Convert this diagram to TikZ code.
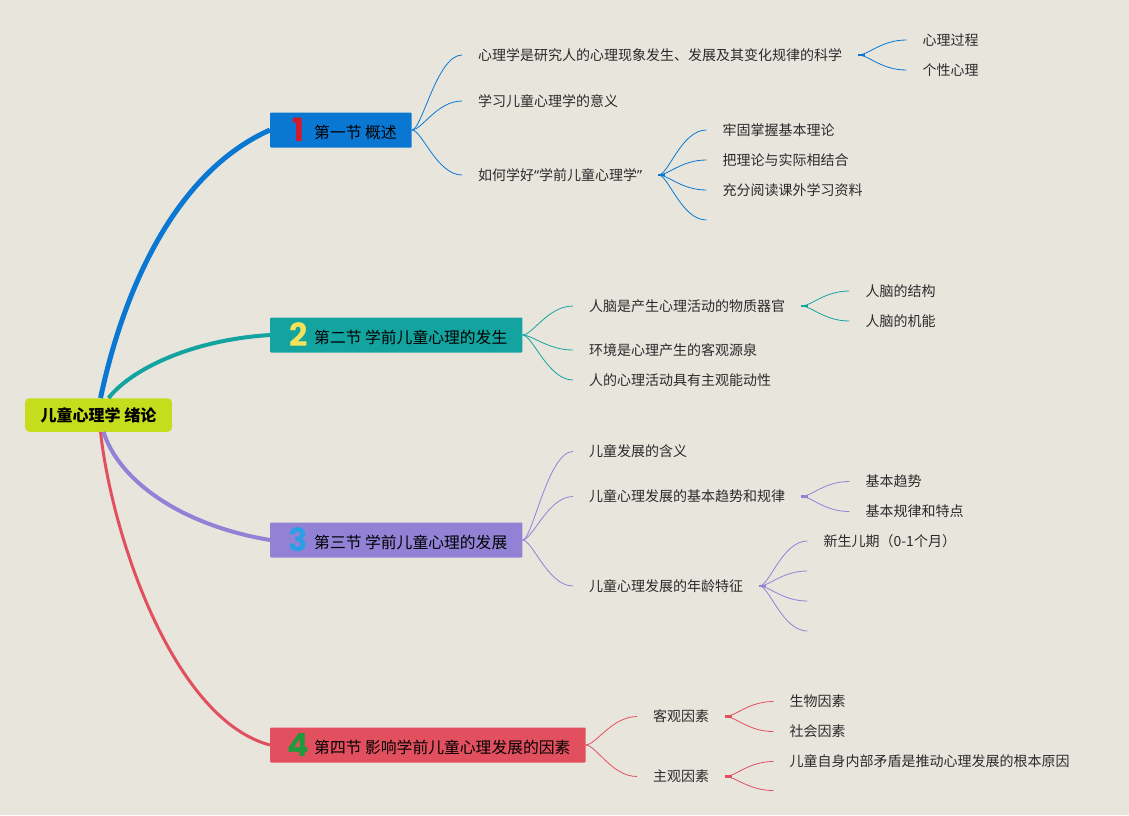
\documentclass[tikz,border=0pt]{standalone}
\usepackage{fontspec}
\setmainfont{Noto Sans CJK SC}
\newfontfamily\numfont{Poppins}
\newfontfamily\quotefont{Noto Sans}
\usetikzlibrary{positioning}

\definecolor{paper}{HTML}{E8E5DD}
\definecolor{rootc}{HTML}{C6DD1E}
\definecolor{secA}{HTML}{0A78D2}
\definecolor{secB}{HTML}{14A4A0}
\definecolor{secC}{HTML}{9282D6}
\definecolor{secD}{HTML}{E2505F}
\definecolor{numA}{HTML}{D3192E}
\definecolor{numB}{HTML}{F3E25A}
\definecolor{numC}{HTML}{2A9EE6}
\definecolor{numD}{HTML}{1E9A3A}
\definecolor{ink}{HTML}{2B2B2B}

\newcommand\secnum[2]{\hspace{5pt}\makebox[16pt]{\raisebox{-3pt}{\numfont\bfseries\fontsize{32}{32}\selectfont\color{#1}#2}}\hspace{8pt}}

\tikzset{
  rootbox/.style={fill=rootc, rounded corners=4pt, minimum height=33.5pt,
    inner xsep=15.5pt, inner ysep=0pt, anchor=west,
    font=\fontsize{16}{18}\selectfont\bfseries},
  sect/.style={fill=#1, minimum height=35pt, inner xsep=15pt, inner ysep=0pt,
    anchor=west, rounded corners=1pt, font=\fontsize{15.8}{18}\selectfont},
  leaf/.style={anchor=west, inner xsep=16pt, inner ysep=2pt, text=ink,
    font=\fontsize{14}{16}\selectfont},
  twig/.style={line width=0.8pt},
}

\begin{document}
\begin{tikzpicture}[x=1pt,y=-1pt]
\def\twig#1(#2)(#3);{\draw[twig,#1] (#2.east) .. controls +(10,0) and +(-25,0) .. (#3);}
\def\stub#1(#2);{\draw[#1,line width=2.5pt] (#2.east) -- ++(7,0);}

\fill[paper] (0,0) rectangle (1129,815);
\useasboundingbox (0,0) rectangle (1129,815);

% root and sections
\node[rootbox] (root) at (25,415) {儿童心理学 绪论};
\node[sect=secA] (s1) at (270,130) {\secnum{numA}{1}第一节 概述};
\node[sect=secB] (s2) at (270,335) {\secnum{numB}{2}第二节 学前儿童心理的发生};
\node[sect=secC] (s3) at (270,540) {\secnum{numC}{3}第三节 学前儿童心理的发展};
\node[sect=secD] (s4) at (270,745) {\secnum{numD}{4}第四节 影响学前儿童心理发展的因素};

\draw[secA,line width=5pt] ([xshift=2pt]root.north) .. controls +(25,-118) and +(-90,40) .. (s1.west);
\draw[secB,line width=4pt] ([xshift=10pt]root.north) .. controls +(22,-28) and +(-80,5) .. (s2.west);
\draw[secC,line width=4pt] ([xshift=5pt]root.south) .. controls +(15,48) and +(-90,-15) .. (s3.west);
\draw[secD,line width=3pt] ([xshift=2pt]root.south) .. controls +(12,108) and +(-95,-25) .. (s4.west);

% section 1
\node[leaf] (a1) at (462,55) {心理学是研究人的心理现象发生、发展及其变化规律的科学};
\node[leaf] (a2) at (462,101) {学习儿童心理学的意义};
\node[leaf] (a3) at (462,175) {如何学好{\quotefont“}学前儿童心理学{\quotefont”}};
\node[leaf,right=48pt of a1,yshift=15pt] (a11) {心理过程};
\node[leaf,right=48pt of a1,yshift=-15pt] (a12) {个性心理};
\node[leaf,right=48pt of a3,yshift=45pt] (a31) {牢固掌握基本理论};
\node[leaf,right=48pt of a3,yshift=15pt] (a32) {把理论与实际相结合};
\node[leaf,right=48pt of a3,yshift=-15pt] (a33) {充分阅读课外学习资料};
\coordinate[right=48pt of a3,yshift=-45pt] (a34);

\twig secA(s1)(a1.west);
\twig secA(s1)(a2.west);
\twig secA(s1)(a3.west);
\stub secA(a1);
\twig secA(a1)(a11.west);
\twig secA(a1)(a12.west);
\stub secA(a3);
\twig secA(a3)(a31.west);
\twig secA(a3)(a32.west);
\twig secA(a3)(a33.west);
\twig secA(a3)(a34);

% section 2
\node[leaf] (b1) at (573,306) {人脑是产生心理活动的物质器官};
\node[leaf] (b2) at (573,350) {环境是心理产生的客观源泉};
\node[leaf] (b3) at (573,380) {人的心理活动具有主观能动性};
\node[leaf,right=48pt of b1,yshift=15pt] (b11) {人脑的结构};
\node[leaf,right=48pt of b1,yshift=-15pt] (b12) {人脑的机能};

\twig secB(s2)(b1.west);
\twig secB(s2)(b2.west);
\twig secB(s2)(b3.west);
\stub secB(b1);
\twig secB(b1)(b11.west);
\twig secB(b1)(b12.west);

% section 3
\node[leaf] (c1) at (573,451.5) {儿童发展的含义};
\node[leaf] (c2) at (573,496.5) {儿童心理发展的基本趋势和规律};
\node[leaf] (c3) at (573,586) {儿童心理发展的年龄特征};
\node[leaf,right=48pt of c2,yshift=15pt] (c21) {基本趋势};
\node[leaf,right=48pt of c2,yshift=-15pt] (c22) {基本规律和特点};
\node[leaf,right=48pt of c3,yshift=45pt] (c31) {新生儿期（0-1个月）};
\coordinate[right=48pt of c3,yshift=15pt] (c32);
\coordinate[right=48pt of c3,yshift=-15pt] (c33);
\coordinate[right=48pt of c3,yshift=-45pt] (c34);

\twig secC(s3)(c1.west);
\twig secC(s3)(c2.west);
\twig secC(s3)(c3.west);
\stub secC(c2);
\twig secC(c2)(c21.west);
\twig secC(c2)(c22.west);
\stub secC(c3);
\twig secC(c3)(c31.west);
\twig secC(c3)(c32);
\twig secC(c3)(c33);
\twig secC(c3)(c34);

% section 4
\node[leaf] (d1) at (637,716.5) {客观因素};
\node[leaf] (d2) at (637,776.5) {主观因素};
\node[leaf,right=48pt of d1,yshift=15pt] (d11) {生物因素};
\node[leaf,right=48pt of d1,yshift=-15pt] (d12) {社会因素};
\node[leaf,right=48pt of d2,yshift=15pt] (d21) {儿童自身内部矛盾是推动心理发展的根本原因};
\coordinate[right=48pt of d2,yshift=-14pt] (d22);

\twig secD(s4)(d1.west);
\twig secD(s4)(d2.west);
\stub secD(d1);
\twig secD(d1)(d11.west);
\twig secD(d1)(d12.west);
\stub secD(d2);
\twig secD(d2)(d21.west);
\twig secD(d2)(d22);

\end{tikzpicture}
\end{document}
